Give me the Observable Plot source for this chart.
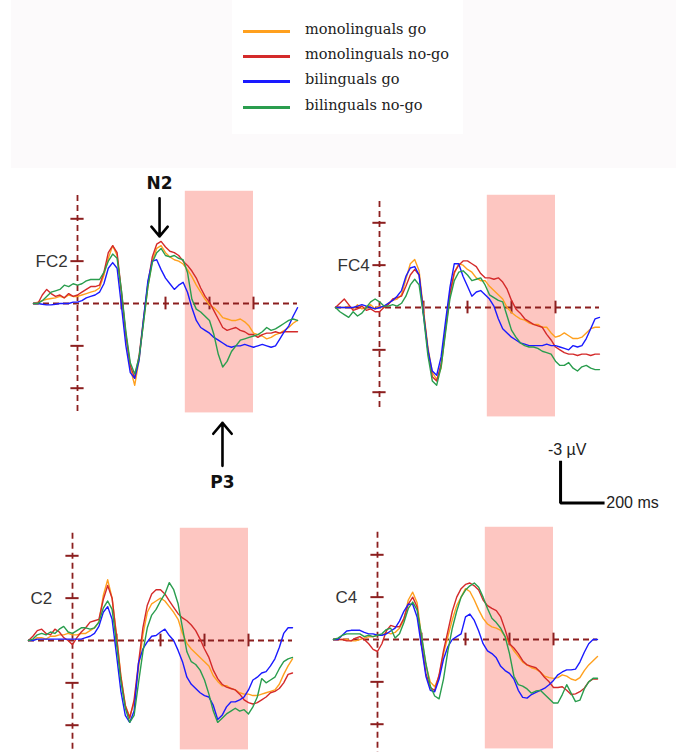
<!DOCTYPE html>
<html>
<head>
<meta charset="utf-8">
<script src="https://cdn.jsdelivr.net/npm/d3@7"></script>
<script src="https://cdn.jsdelivr.net/npm/@observablehq/plot@0.6"></script>
<style>
  html, body { margin: 0; padding: 0; background: #fff; }
  #page { position: relative; width: 676px; height: 752px; overflow: hidden; background: #fff; }
  #band { position: absolute; left: 11px; top: 0; width: 665px; height: 168px; background: #fcfafb; }
  #legend { position: absolute; left: 232px; top: 0; width: 231px; height: 134px; background: #fff; }
  .lg-row { position: absolute; left: 0; width: 231px; height: 20px; }
  .lg-line { position: absolute; left: 11px; width: 47px; height: 2.5px; }
  .lg-text { position: absolute; left: 73px; font-family: "DejaVu Serif", serif; font-size: 14.5px; color: #222; white-space: nowrap; line-height: 18px; }
  .panel { position: absolute; width: 310px; height: 240px; }
  .panel svg { overflow: visible; }
</style>
</head>
<body>
<div id="page">
  <div id="band"></div>
  <div id="legend"></div>
  <div id="pFC2" class="panel" style="left:-2px; top:183px;"></div>
  <div id="pFC4" class="panel" style="left:300px; top:186.5px;"></div>
  <div id="pC2" class="panel" style="left:-7px; top:520px;"></div>
  <div id="pC4" class="panel" style="left:298px; top:519px;"></div>
</div>
<script>
// ---------------- data ----------------
const times = [-200,-180,-160,-140,-120,-100,-80,-60,-40,-20,
  0,20,40,60,80,100,120,140,160,180,
  200,220,240,260,280,300,320,340,360,380,
  400,420,440,460,480,500,520,540,560,580,
  600,620,640,660,680,700,720,740,760,780,
  800,820,840,860,880,900,920,940,960,980,
  1000];

const groups = ["monolinguals go", "monolinguals no-go", "bilinguals go", "bilinguals no-go"];
const colors = ["#ffa01e", "#d42a2a", "#1a1aff", "#2a9d4e"];

const channels = ["FC2", "FC4", "C2", "C4"];
const yTicks = [-6, -3, 3, 6];          // µV (negative up)
const xTicks = [200, 400, 600, 800];    // ms
const p3Window = [490, 800];            // ms, shaded
const windowUv = [-7.95, 7.75];
const axisExtent = {FC2: [-7.65, 7.8], FC4: [-7.5, 7.1], C2: [-7.6, 8.2], C4: [-7.6, 8.2]};

// component annotations (FC2 panel units: ms, µV)
const components = [
  {label: "N2", time: 373, from: -7.45, to: -4.75, textUv: -8.5},
  {label: "P3", time: 659, from: 11.5, to: 8.45, textUv: 12.65}
];
// calibration bar (FC4 panel units)
const calib = {time: 823, uv: 13.85, ms: 200, amp: 3, ampLabel: "-3 µV", msLabel: "200 ms"};

// FC2
const fc2MonoGo = [0,-0.1,-0.2,-0.3,-0.35,-0.4,-0.5,-0.4,-0.6,-0.5,
  -0.5,-0.6,-0.7,-0.8,-0.9,-1.1,-2.0,-3.2,-4.1,-3.4,
  -0.6,2.3,4.6,5.8,4.0,1.3,-1.2,-3.0,-3.9,-4.1,
  -3.6,-3.3,-3.1,-3.0,-2.8,-2.4,-1.9,-1.3,-0.8,-0.3,
  0.1,0.3,0.6,1.0,1.1,1.2,1.2,1.1,1.3,1.6,
  2.1,2.2,2.3,2.5,2.4,2.2,2.1,1.9,1.7,1.4,
  1.2];
const fc2MonoNoGo = [0,0,-0.6,-1.0,-0.7,-0.5,-0.6,-0.4,-0.7,-0.5,
  -0.6,-0.8,-1.0,-1.2,-1.2,-1.3,-2.2,-3.6,-4.1,-3.6,
  -0.8,2.2,4.4,5.3,3.7,1.1,-1.4,-3.3,-4.2,-4.4,
  -4.0,-3.7,-3.6,-3.4,-3.0,-2.7,-2.3,-1.8,-1.1,-0.5,
  -0.1,0.5,1.1,1.7,1.9,1.8,1.7,1.9,2.0,2.2,
  2.2,2.4,2.2,2.1,2.1,2.0,2.1,2.0,2.0,2.0,
  2.0];
const fc2BiGo = [0,0,0.05,0.1,0.1,0.05,0,0,0,-0.1,
  -0.1,-0.2,-0.4,-0.5,-0.6,-0.8,-1.4,-2.5,-2.9,-2.5,
  0.2,3.0,4.9,5.3,4.0,1.1,-1.6,-3.0,-3.1,-2.4,
  -1.8,-1.4,-1.0,-1.3,-1.5,-0.8,0.3,1.2,1.7,1.9,
  2.1,2.4,2.6,2.8,3.0,3.1,3.0,3.0,2.9,3.0,
  3.1,3.0,2.9,3.0,3.1,3.0,2.5,2.0,1.6,0.9,
  0.3];
const fc2BiNoGo = [0,0,-0.2,-0.5,-0.8,-0.9,-1.0,-1.3,-1.2,-1.4,
  -1.3,-1.4,-1.6,-1.7,-1.7,-1.7,-2.2,-3.0,-3.5,-3.2,
  -0.9,2.0,4.2,5.0,3.8,1.4,-1.2,-2.9,-3.6,-3.9,
  -3.4,-3.3,-3.4,-3.2,-3.1,-2.2,-0.3,0.4,0.6,0.9,
  1.2,2.2,3.6,4.5,4.1,3.4,3.0,2.6,2.5,2.4,
  2.3,2.2,2.0,1.7,1.9,1.8,1.6,1.4,1.2,1.1,
  1.2];

// FC4
const fc4MonoGo = [0,0,0,-0.1,0.1,-0.2,0.1,0,-0.2,0.1,
  -0.1,0,-0.3,-0.5,-0.6,-0.9,-2.0,-3.1,-3.4,-2.6,
  0.2,2.8,4.6,5.1,4.3,1.6,-0.8,-2.4,-3.1,-3.0,
  -2.7,-2.5,-2.1,-1.9,-1.9,-1.5,-1.2,-0.9,-0.6,0.0,
  0.35,0.6,0.8,0.9,1.1,1.2,1.2,1.4,1.4,1.8,
  2.1,2.0,1.8,2.0,2.2,2.2,2.1,1.8,1.5,1.4,
  1.4];
const fc4MonoNoGo = [0,-0.3,-0.6,-0.2,0.2,0.1,-0.1,0.2,0.1,0.3,
  0.3,0,-0.2,-0.6,-0.7,-0.8,-1.5,-2.3,-2.7,-2.3,
  0.3,3.0,4.9,5.2,4.0,1.5,-1.0,-2.5,-3.0,-3.3,
  -3.3,-3.1,-2.9,-2.4,-2.1,-2.1,-2.0,-2.1,-1.8,-1.3,
  -0.5,0.1,0.4,0.8,1.0,1.2,1.3,1.4,1.9,2.3,
  2.8,3.0,3.2,3.3,3.3,3.4,3.3,3.3,3.4,3.3,
  3.3];
const fc4BiGo = [0,0,0,0,0,-0.1,-0.2,-0.1,0,0.1,
  0,-0.1,-0.3,-0.5,-0.8,-1.2,-2.2,-2.8,-2.9,-2.3,
  0.5,3.0,4.5,4.8,3.5,1.0,-1.4,-3.1,-3.1,-2.2,
  -1.5,-0.8,-1.1,-1.2,-0.9,-0.6,-0.1,0.8,1.5,1.8,
  2.1,2.3,2.5,2.6,2.7,2.7,2.7,2.7,2.6,2.7,
  2.7,2.8,2.9,3.0,2.7,2.8,2.7,2.2,1.5,0.8,
  0.7];
const fc4BiNoGo = [0,0.3,0.5,0.7,0.3,0.6,0.4,0,-0.4,-0.6,
  -0.4,-0.1,-0.1,-0.2,-0.1,-0.3,-0.8,-1.6,-2.0,-1.6,
  0.6,3.4,5.2,5.5,4.2,1.8,-0.6,-1.9,-2.5,-2.6,
  -2.3,-1.9,-2.0,-2.1,-1.6,-0.9,-0.7,-0.5,-0.4,0.6,
  1.6,2.1,2.5,2.7,2.8,2.8,2.9,3.1,3.2,3.3,
  3.8,4.1,4.1,3.9,4.3,4.5,4.2,4.1,4.3,4.4,
  4.4];

// C2
const c2MonoGo = [0,0,-0.2,-0.2,-0.1,-0.3,-0.3,-0.4,-0.4,-0.5,
  -0.4,-0.4,-0.5,-0.5,-0.7,-0.9,-1.3,-3.2,-4.3,-3.0,
  -0.4,2.5,4.6,5.4,4.4,2.0,-0.4,-2.0,-2.6,-2.8,
  -3.0,-2.8,-2.4,-2.0,-1.5,-0.5,0.2,0.6,0.9,1.2,
  1.5,1.8,2.5,2.9,3.2,3.2,3.4,3.5,3.7,3.8,
  3.8,3.9,3.9,3.8,3.7,3.6,3.5,3.1,2.4,1.8,
  1.3];
const c2MonoNoGo = [0,-0.3,-0.7,-0.8,-0.5,-0.4,-0.8,-0.6,-0.2,0,
  0.3,-0.2,-0.6,-0.9,-1.3,-1.4,-1.5,-2.9,-3.9,-3.0,
  -0.3,2.6,4.6,5.5,4.2,1.6,-0.9,-2.5,-3.3,-3.6,
  -3.6,-3.3,-2.8,-2.35,-1.9,-1.6,-1.4,-1.1,-0.7,-0.1,
  0.6,1.2,2.1,2.7,3.1,3.3,3.4,3.5,3.8,4.2,
  4.4,4.5,4.4,4.2,4.0,3.7,3.6,3.4,3.0,2.4,
  2.3];
const c2BiGo = [0,0,-0.1,-0.1,-0.1,-0.1,-0.1,-0.1,-0.1,-0.1,
  -0.1,-0.1,-0.1,-0.2,-0.3,-0.5,-1.0,-2.0,-2.4,-1.5,
  1.0,3.6,5.3,5.8,5.0,1.6,0.6,0.1,-0.3,-0.35,
  -0.6,-0.8,-0.35,0.0,0.7,1.5,2.6,3.1,3.4,3.7,
  3.9,4.0,4.6,5.6,5.3,4.7,4.35,4.35,4.2,4.0,
  3.5,2.8,2.6,2.3,2.2,1.8,1.3,0.5,-0.5,-0.9,
  -0.9];
const c2BiNoGo = [0,-0.1,-0.4,-0.5,-0.4,-0.6,-0.5,-0.8,-1.0,-0.6,
  -0.5,-0.7,-0.9,-0.9,-0.8,-0.9,-1.3,-2.3,-2.8,-2.2,
  0.2,2.9,4.8,5.8,5.3,3.0,0.8,-0.9,-1.8,-2.2,
  -2.8,-3.3,-4.1,-3.6,-2.6,-0.9,0.8,1.5,1.7,2.1,
  2.8,3.8,5.0,5.8,5.5,5.2,5.0,4.8,5.0,4.9,
  5.2,4.7,4.0,2.7,3.0,2.8,2.6,2.0,1.5,1.3,
  1.2];

// C4
const c4MonoGo = [0,0,0,0,0.1,0.1,0,-0.1,-0.2,-0.2,
  -0.3,-0.3,-0.5,-0.4,-0.5,-0.8,-1.4,-2.8,-3.35,-2.6,
  -0.2,1.8,3.0,3.35,2.6,1.0,-0.2,-1.4,-2.4,-3.0,
  -3.6,-3.4,-2.8,-2.1,-1.5,-1.1,-0.9,-0.8,-0.65,-0.2,
  0.3,0.8,1.2,1.6,1.8,2.0,2.1,2.3,2.6,2.7,
  2.75,2.7,2.5,2.6,2.8,2.9,2.7,2.2,1.8,1.5,
  1.2];
const c4MonoNoGo = [0,0,0,0.1,0.1,-0.1,-0.2,0,0.3,0.7,
  0.85,0.3,-0.6,-1.0,-0.9,-0.9,-1.5,-2.5,-3.0,-2.3,
  0.3,2.4,3.4,3.6,2.5,0.8,-0.6,-2.0,-3.0,-3.6,
  -3.9,-4.0,-3.8,-3.5,-2.8,-2.4,-2.2,-2.05,-1.6,-0.7,
  0.3,0.6,1.0,1.5,1.8,1.9,2.0,2.3,2.7,3.0,
  3.4,3.4,3.35,3.6,3.9,3.85,3.7,3.45,3.0,2.8,
  2.8];
const c4BiGo = [0,0,-0.3,-0.6,-0.65,-0.65,-0.65,-0.5,-0.4,-0.4,
  -0.3,-0.3,-0.4,-0.6,-0.8,-1.3,-2.0,-2.5,-2.5,-1.6,
  0.5,2.6,3.6,3.7,2.8,1.4,0.5,0.0,-0.2,-0.4,
  -1.6,-1.8,-1.35,-0.6,0.3,0.8,1.0,1.3,1.9,2.2,
  2.4,2.8,3.6,4.1,4.15,3.9,3.75,3.6,3.45,3.2,
  2.9,2.5,2.3,2.15,2.15,2.1,1.6,0.9,0.3,0.0,
  0.0];
const c4BiNoGo = [0,-0.1,-0.3,-0.4,-0.4,-0.4,-0.4,-0.2,-0.3,-0.2,
  -0.3,-0.4,-0.7,-0.8,-0.1,-0.4,-1.2,-2.2,-2.65,-2.1,
  -0.3,1.7,3.3,4.0,4.2,2.8,0.8,-0.8,-2.0,-3.0,
  -3.5,-3.8,-4.0,-3.7,-3.0,-2.2,-1.5,-1.2,-0.8,-0.2,
  1.0,2.6,3.2,3.3,3.5,3.8,3.65,3.6,3.9,4.2,
  4.5,4.5,3.9,3.2,3.8,4.4,4.3,3.5,3.0,2.75,
  2.75];

const seriesByChannel = {
  FC2: [fc2MonoGo, fc2MonoNoGo, fc2BiGo, fc2BiNoGo],
  FC4: [fc4MonoGo, fc4MonoNoGo, fc4BiGo, fc4BiNoGo],
  C2:  [c2MonoGo, c2MonoNoGo, c2BiGo, c2BiNoGo],
  C4:  [c4MonoGo, c4MonoNoGo, c4BiGo, c4BiNoGo]
};

// ---------------- legend ----------------
const legend = document.getElementById("legend");
const legendY = [31, 56, 81, 107];
groups.forEach((g, i) => {
  const row = document.createElement("div");
  row.className = "lg-row";
  row.style.top = (legendY[i] - 10) + "px";
  const ln = document.createElement("div");
  ln.className = "lg-line";
  ln.style.top = "9px";
  ln.style.background = colors[i];
  const tx = document.createElement("div");
  tx.className = "lg-text";
  tx.style.top = "-1px";
  tx.textContent = g;
  row.appendChild(ln); row.appendChild(tx);
  legend.appendChild(row);
});

// ---------------- panels ----------------
const axisColor = "#8c1f1f";

function panel(ch) {
  const rows = [];
  seriesByChannel[ch].forEach((arr, gi) => {
    if (arr.length !== times.length) console.error(ch, groups[gi], arr.length);
    arr.forEach((v, i) => rows.push({group: groups[gi], time: times[i], uv: v}));
  });
  const ext = axisExtent[ch];
  const marks = [
    Plot.rect([{a: p3Window[0], b: p3Window[1], lo: windowUv[0], hi: windowUv[1]}],
      {x1: "a", x2: "b", y1: "lo", y2: "hi", fill: "#fdc6c1"}),
    Plot.ruleY([{v: 0, a: -200, b: 1000}],
      {y: "v", x1: "a", x2: "b", stroke: axisColor, strokeWidth: 1.8, strokeDasharray: "6,4"}),
    Plot.ruleX([{t: 0, lo: ext[0], hi: ext[1]}],
      {x: "t", y1: "lo", y2: "hi", stroke: axisColor, strokeWidth: 1.8, strokeDasharray: "6,4"}),
    Plot.ruleY(yTicks.map(v => ({v, a: -30, b: 30})),
      {y: "v", x1: "a", x2: "b", stroke: axisColor, strokeWidth: 2}),
    Plot.ruleX(xTicks.map(t => ({t, lo: -0.45, hi: 0.45})),
      {x: "t", y1: "lo", y2: "hi", stroke: axisColor, strokeWidth: 2}),
    Plot.line(rows, {x: "time", y: "uv", z: "group", stroke: "group", strokeWidth: 1.4}),
    Plot.text([{name: ch, t: 0, v: -3}],
      {x: "t", y: "v", text: "name", dx: -42, textAnchor: "start", fontSize: 17,
       fontFamily: "Liberation Sans, Arial, sans-serif", fill: "#333"})
  ];
  if (ch === "FC2") {
    marks.push(
      Plot.arrow(components, {x1: "time", x2: "time", y1: "from", y2: "to",
        stroke: "#000", strokeWidth: 2.6, headLength: 12, headAngle: 80}),
      Plot.text(components, {x: "time", y: "textUv", text: "label", fontSize: 17,
        fontWeight: "bold", fontFamily: "DejaVu Sans, sans-serif", fill: "#111"})
    );
  }
  if (ch === "FC4") {
    const c = calib;
    const bar = [{t: c.time, v: c.uv - c.amp}, {t: c.time, v: c.uv}, {t: c.time + c.ms, v: c.uv}];
    marks.push(
      Plot.line(bar, {x: "t", y: "v", stroke: "#000", strokeWidth: 3, strokeLinejoin: "miter", strokeLinecap: "butt"}),
      Plot.text([{t: c.time + 30, v: c.uv - c.amp - 0.75, s: c.ampLabel}],
        {x: "t", y: "v", text: "s", fontSize: 16, fontFamily: "Liberation Sans, Arial, sans-serif", fill: "#222"}),
      Plot.text([{t: c.time + c.ms + 8, v: c.uv, s: c.msLabel}],
        {x: "t", y: "v", text: "s", textAnchor: "start", fontSize: 16,
         fontFamily: "Liberation Sans, Arial, sans-serif", fill: "#222"})
    );
  }
  return Plot.plot({
    width: 310, height: 240,
    marginLeft: 35, marginRight: 11, marginTop: 0, marginBottom: 0,
    x: {domain: [-200, 1000], axis: null},
    y: {domain: [8.5, -8.5], axis: null},
    color: {domain: groups, range: colors},
    style: {overflow: "visible", background: "transparent"},
    marks
  });
}

channels.forEach(ch => document.getElementById("p" + ch).appendChild(panel(ch)));
</script>
</body>
</html>
